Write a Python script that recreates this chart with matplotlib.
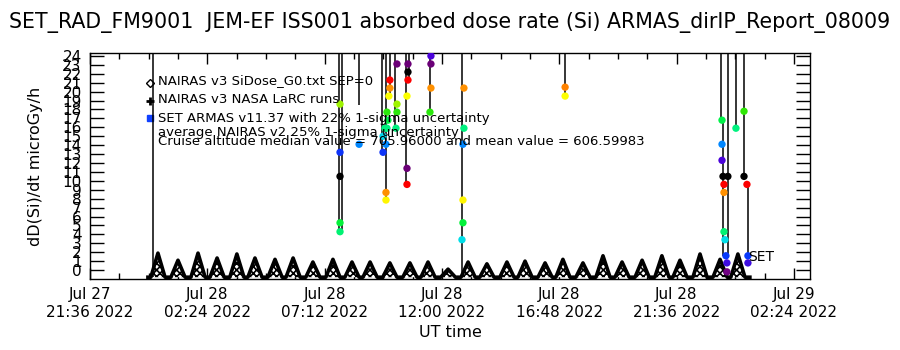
"""ISS JEM-EF absorbed dose rate (Si): NAIRAS model orbits vs SET ARMAS spikes."""
import numpy as np
import pandas as pd
import matplotlib
matplotlib.use("Agg")
import matplotlib.pyplot as plt
from matplotlib.colors import LinearSegmentedColormap
from matplotlib.ticker import FixedLocator

plt.rcParams["font.family"] = ["DejaVu Sans"]
plt.rcParams["hatch.linewidth"] = 1.2

START = pd.Timestamp("2022-07-27 21:36")

# NAIRAS v3 orbit humps, hours since START (rise, peak, fall) and peak dose
nairas_rise_h = [2.49, 3.31, 4.13, 4.91, 5.72, 6.46, 7.28, 8.02, 8.83, 9.65, 10.43,
                 11.17, 11.98, 12.80, 13.54, 14.35, 15.18, 15.95, 16.77, 17.51, 18.33,
                 19.06, 19.88, 20.70, 21.48, 22.30, 23.11, 23.85, 24.67, 25.49, 26.22]
nairas_peak_h = [2.78, 3.60, 4.42, 5.20, 6.01, 6.75, 7.57, 8.31, 9.12, 9.94, 10.72,
                 11.46, 12.27, 13.09, 13.83, 14.65, 15.47, 16.24, 17.06, 17.80, 18.62,
                 19.35, 20.17, 20.99, 21.77, 22.59, 23.40, 24.14, 24.96, 25.78, 26.51]
nairas_fall_h = [3.07, 3.89, 4.71, 5.49, 6.30, 7.04, 7.86, 8.60, 9.41, 10.23, 11.01,
                 11.75, 12.56, 13.38, 14.12, 14.95, 15.76, 16.53, 17.35, 18.09, 18.91,
                 19.64, 20.46, 21.28, 22.06, 22.88, 23.69, 24.43, 25.25, 26.07, 26.80]
nairas_peak_v = [1.9, 1.1, 1.9, 1.35, 1.8, 1.35, 1.2, 1.35, 0.9, 1.2, 0.9,
                 0.9, 0.8, 0.8, 0.9, 0.1, 0.9, 0.7, 0.9, 1.0, 0.8,
                 1.2, 0.8, 1.6, 0.9, 1.1, 1.6, 1.1, 1.8, 1.2, 1.8]
nairas_floor = -0.8
nairas_span_h = [2.37, 27.0]

# SET ARMAS spikes: vertical runs (hour, low, high); 30 = off scale
spike_h = [2.58, 10.19, 10.31, 11.01, 11.95, 12.11, 12.27, 12.48, 12.93, 13.05,
           13.91, 15.22, 19.44, 25.82, 25.90, 26.10, 26.43, 26.76, 26.92]
spike_lo = [-0.8, 4.3, 4.3, 18.5, 13.2, 7.85, 19.5, 15.9, 9.6, 21.3,
            17.7, -0.8, 19.5, 16.8, 1.6, 1.6, 15.9, 10.5, 1.6]
spike_hi = [30, 30, 30, 30, 30, 30, 30, 30, 30, 30,
            30, 30, 30, 30, 16.8, 30, 30, 30, 9.6]

# SET ARMAS samples
set_h = [10.23, 10.23, 10.23, 10.23, 10.23, 11.01, 11.99, 11.99, 12.11, 12.11, 12.11,
         12.15, 12.15, 12.07, 12.27, 12.27, 12.23, 12.19, 12.56, 12.56, 12.56, 12.52,
         13.01, 13.01, 13.01, 12.97, 12.97, 12.97, 13.95, 13.95, 13.95, 13.91,
         15.30, 15.30, 15.26, 15.26, 15.26, 15.22, 19.44, 19.44,
         25.86, 25.86, 25.86, 25.90, 26.10, 25.94, 25.94, 25.94, 25.98, 26.02,
         26.06, 26.06, 26.43, 26.76, 26.76, 26.88, 26.92, 26.92]
set_v = [18.6, 13.2, 10.5, 5.3, 4.3, 14.1, 13.2, 15.0, 14.1, 8.7, 7.85,
         17.7, 15.9, 15.9, 21.3, 20.4, 19.5, 16.8, 17.7, 18.6, 23.1, 15.9,
         23.1, 22.2, 21.3, 19.5, 11.4, 9.6, 24.0, 23.1, 20.4, 17.7,
         20.4, 15.9, 14.1, 7.85, 5.3, 3.4, 20.5, 19.5,
         16.8, 14.1, 12.3, 10.5, 10.5, 9.6, 8.7, 4.3, 3.4, 1.6,
         0.8, -0.2, 15.9, 17.8, 10.5, 9.6, 1.6, 0.8]

y_ticks = list(range(0, 25))
legend_lines = ["NAIRAS v3 SiDose_G0.txt SEP=0",
                "NAIRAS v3 NASA LaRC runs",
                "SET ARMAS v11.37 with 22% 1-sigma uncertainty",
                "average NAIRAS v2 25% 1-sigma uncertainty",
                "Cruise altitude median value = 705.96000 and mean value = 606.59983"]

# IDL table 39 look-alike; colour index wraps like a byte
idl39 = LinearSegmentedColormap.from_list("idl39", [
    (0.00, (0, 0, 0)), (0.08, (0.45, 0, 0.5)), (0.15, (0.3, 0, 0.85)),
    (0.25, (0, 0.25, 1)), (0.32, (0, 0.6, 1)), (0.40, (0, 0.9, 0.9)),
    (0.47, (0, 0.95, 0.45)), (0.55, (0, 0.95, 0.25)), (0.63, (0.2, 0.9, 0)),
    (0.69, (0.6, 0.95, 0)), (0.77, (1, 1, 0)), (0.85, (1, 0.55, 0)),
    (0.92, (1, 0, 0)), (0.97, (0.9, 0, 0)), (1.00, (0, 0, 0))])


def to_time(hours):
    return START + pd.to_timedelta(np.asarray(hours, dtype=float), unit="h")


fig = plt.figure(figsize=(9, 3.5), dpi=100)
ax = fig.add_axes([0.1, 0.2029, 0.8, 0.6457])

# NAIRAS humps
hx = [nairas_span_h[0]]
hy = [nairas_floor]
for r, p, f, v in zip(nairas_rise_h, nairas_peak_h, nairas_fall_h, nairas_peak_v):
    hx += [r, p, f]
    hy += [nairas_floor, v, nairas_floor]
hx.append(nairas_span_h[1])
hy.append(nairas_floor)
ht = to_time(hx)
ax.fill_between(ht, nairas_floor, hy, facecolor="white", edgecolor="black",
                hatch="xxxxx", linewidth=0, zorder=2)
ax.plot(ht, hy, color="black", lw=2.6, zorder=3)

# SET ARMAS
ax.vlines(to_time(spike_h), spike_lo, spike_hi, color="black", lw=1.1, zorder=4)
cvals = ((np.array(set_v) + 1.2) / 11.7) % 1.0
ax.scatter(to_time(set_h), set_v, c=idl39(cvals), s=28, marker="o",
           linewidths=0, zorder=5)
ax.text(to_time([26.92])[0], 1.5, "SET", fontsize=10, va="center", ha="left", zorder=6)

# in-plot legend
tr = ax.transAxes
ax.plot([0.083], [0.867], marker="D", ms=4, mfc="white", mec="black", mew=1,
        transform=tr, clip_on=False)
ax.plot([0.083], [0.788], marker="+", ms=6, color="black", mew=2, transform=tr)
ax.plot([0.083], [0.712], marker="s", ms=5, color="#1040ff", transform=tr)
for txt, yy in zip(legend_lines, [0.876, 0.792, 0.712, 0.646, 0.608]):
    ax.text(0.094, yy, txt, transform=tr, fontsize=9.5, va="center", ha="left", zorder=6)

# axes
ax.set_xlim(to_time([0.0])[0], to_time([29.46])[0])
ax.set_ylim(-1.0, 24.33)
major_h = [0.0, 4.8, 9.6, 14.4, 19.2, 24.0, 28.8]
minor_h = [k * 1.2 for k in range(25)]
major_t = to_time(major_h)
ax.xaxis.set_major_locator(FixedLocator(matplotlib.dates.date2num(major_t)))
ax.xaxis.set_minor_locator(FixedLocator(matplotlib.dates.date2num(to_time(minor_h))))
ax.set_xticklabels([t.strftime("%b %d\n%H:%M %Y") for t in major_t],
                   multialignment="center")
ax.set_yticks(y_ticks)
ax.tick_params(axis="y", which="major", direction="in", length=10, width=1,
               right=True, labelsize=11, pad=6)
ax.tick_params(axis="x", which="major", direction="in", length=8, width=1,
               top=True, labelsize=11, pad=6)
ax.tick_params(axis="x", which="minor", direction="in", length=4, width=1, top=True)
for s in ax.spines.values():
    s.set_linewidth(1)
ax.set_ylabel("dD(Si)/dt microGy/h", fontsize=11.5, labelpad=14)
ax.set_xlabel("UT time", fontsize=11.5, labelpad=4)
fig.suptitle("SET_RAD_FM9001  JEM-EF ISS001 absorbed dose rate (Si) ARMAS_dirIP_Report_08009",
             fontsize=14.8, y=0.965)

fig.savefig("out.png", dpi=100)
